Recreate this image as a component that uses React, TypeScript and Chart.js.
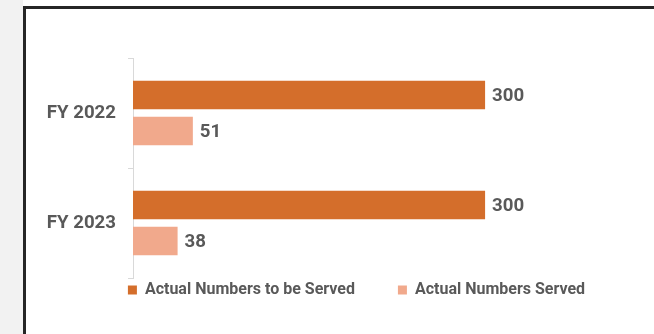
import { useEffect, useRef } from 'react';
import { Chart, registerables } from 'chart.js';

Chart.register(...registerables);

const categories = ['FY 2022', 'FY 2023'];
const seriesNames = ['Actual Numbers to be Served', 'Actual Numbers Served'];
const toBeServed = [300, 300];
const served = [51, 38];
const xMax = 455;

const textColor = '#595959';
const darkColor = '#D46E2B';
const lightColor = '#F1A98C';

export default function App() {
  const ref = useRef<HTMLCanvasElement>(null);

  useEffect(() => {
    document.body.style.margin = '0';
    const canvas = ref.current;
    if (!canvas) return;

    const dataLabels = {
      id: 'dataLabels',
      afterDatasetsDraw(chart: any) {
        const ctx = chart.ctx;
        ctx.save();
        ctx.fillStyle = textColor;
        ctx.font = 'bold 18.67px Roboto';
        ctx.textAlign = 'left';
        ctx.textBaseline = 'middle';
        chart.data.datasets.forEach((ds: any, di: number) => {
          const meta = chart.getDatasetMeta(di);
          meta.data.forEach((bar: any, i: number) => {
            ctx.fillText(String(ds.data[i]), bar.x + 7, bar.y + 1);
          });
        });
        ctx.restore();
      },
    };

    const legendShift = {
      id: 'legendShift',
      afterLayout(chart: any) {
        const l = chart.legend;
        if (l) {
          l.top -= 39;
          l.bottom -= 39;
        }
      },
    };

    const chart = new Chart(canvas, {
      type: 'bar',
      data: {
        labels: categories,
        datasets: [
          {
            label: seriesNames[0],
            data: toBeServed,
            backgroundColor: darkColor,
            borderWidth: 0,
            categoryPercentage: 0.655,
            barPercentage: 0.795,
          },
          {
            label: seriesNames[1],
            data: served,
            backgroundColor: lightColor,
            borderWidth: 0,
            categoryPercentage: 0.655,
            barPercentage: 0.795,
          },
        ],
      },
      options: {
        indexAxis: 'y',
        responsive: false,
        animation: false,
        devicePixelRatio: 1,
        layout: { padding: { left: 46, top: 58, right: 33, bottom: 13 } },
        scales: {
          x: { display: false, min: 0, max: xMax },
          y: {
            grid: {
              display: true,
              drawOnChartArea: false,
              drawTicks: true,
              tickLength: 5,
              color: '#D9D9D9',
              offset: true,
            },
            border: { display: true, color: '#D9D9D9', width: 1 },
            ticks: {
              color: textColor,
              padding: 12,
              font: { family: 'Roboto', size: 18.67, weight: 'bold' },
            },
            afterFit(scale: any) {
              scale.width = 87;
            },
          },
        },
        plugins: {
          legend: {
            display: true,
            position: 'bottom',
            align: 'center',
            fullSize: true,
            labels: {
              color: textColor,
              boxWidth: 9,
              boxHeight: 9,
              padding: 43,
              font: { family: 'Roboto', size: 16, weight: 'bold' },
            },
          },
          tooltip: { enabled: false },
        },
      },
      plugins: [dataLabels, legendShift],
    } as any);

    return () => chart.destroy();
  }, []);

  return (
    <div
      style={{
        position: 'fixed',
        left: 0,
        top: 0,
        width: 654,
        height: 334,
        overflow: 'hidden',
        background: '#ffffff',
      }}
    >
      <div
        style={{
          position: 'absolute',
          left: 0,
          top: 0,
          width: 23,
          height: 334,
          background: '#F2F2F2',
        }}
      />
      <div
        style={{
          position: 'absolute',
          left: 23,
          top: 6,
          width: 700,
          height: 400,
          borderLeft: '3px solid #262626',
          borderTop: '3px solid #262626',
          background: '#ffffff',
        }}
      />
      <canvas
        ref={ref}
        width={700}
        height={360}
        style={{ position: 'absolute', left: 0, top: 0, width: 700, height: 360 }}
      />
    </div>
  );
}
